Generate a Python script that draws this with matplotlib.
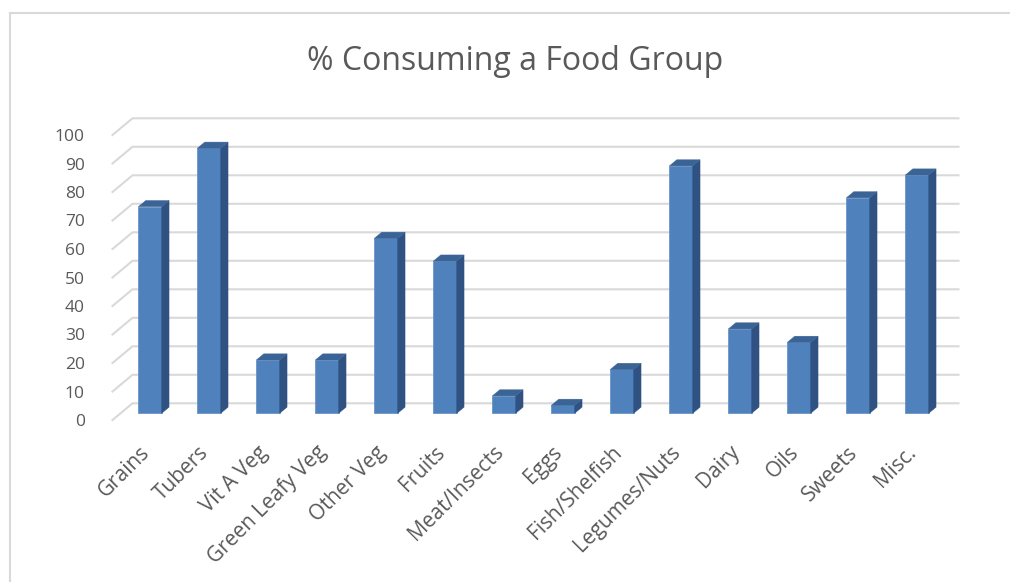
import matplotlib
matplotlib.use("Agg")
import matplotlib.pyplot as plt
from matplotlib.patches import Polygon
from matplotlib.lines import Line2D
from matplotlib.transforms import ScaledTranslation
import numpy as np

# ---- data ----
categories = ["Grains", "Tubers", "Vit A Veg", "Green Leafy Veg", "Other Veg",
              "Fruits", "Meat/Insects", "Eggs", "Fish/Shelfish", "Legumes/Nuts",
              "Dairy", "Oils", "Sweets", "Misc."]
values = [72.5, 93.0, 18.7, 18.7, 61.4, 53.4, 6.1, 2.8, 15.4, 86.8, 29.6, 24.9, 75.6, 83.6]
yticks = list(range(0, 101, 10))
title = "% Consuming a Food Group"

plt.rcParams['font.family'] = ['Open Sans', 'DejaVu Sans']
TXT = '#595959'
GRID = '#d9d9d9'
FRONT = '#4F81BD'
SIDE = '#2F5283'
TOP = '#3B6496'

W, H = 1010, 582
fig = plt.figure(figsize=(W / 100, H / 100), dpi=100)

# axes = front floor plane
left_px, right_px, bot_px, top_px = 112.5, 938.5, 420, 135
ax = fig.add_axes([left_px / W, 1 - bot_px / H, (right_px - left_px) / W, (bot_px - top_px) / H])
ax.set_xlim(-0.5, len(categories) - 0.5)
ax.set_ylim(0, 100)
for s in ax.spines.values():
    s.set_visible(False)
ax.set_facecolor('none')

# depth (full) in data units
DX = 20 / 59.0
DY = 16.7 / 2.85

x = np.arange(len(categories))
x0, x1 = -0.5, len(categories) - 0.5

# gridlines on left wall + back wall
for t in yticks:
    ax.add_line(Line2D([x0, x0 + DX, x1 + DX], [t, t + DY, t + DY],
                       color=GRID, lw=1.5, clip_on=False, zorder=1))

# bars
bw = 0.395
d_front, d_depth = 0.4, 0.37
ox, oy = d_front * DX, d_front * DY
dx, dy = d_depth * DX, d_depth * DY
ax.bar(x + ox, values, width=bw, bottom=oy, color=FRONT, edgecolor='#6a95c9',
       linewidth=0.6, zorder=3, clip_on=False)
for xi, v in zip(x, values):
    l = xi + ox - bw / 2
    r = xi + ox + bw / 2
    side = Polygon([(r, oy), (r + dx, oy + dy), (r + dx, v + oy + dy), (r, v + oy)],
                   closed=True, facecolor=SIDE, edgecolor=SIDE, lw=0.3, zorder=3, clip_on=False)
    top = Polygon([(l, v + oy), (r, v + oy), (r + dx, v + oy + dy), (l + dx, v + oy + dy)],
                  closed=True, facecolor=TOP, edgecolor=TOP, lw=0.3, zorder=3, clip_on=False)
    ax.add_patch(side)
    ax.add_patch(top)

ax.set_yticks(yticks)
ax.set_yticklabels([str(t) for t in yticks], fontsize=12.5, color=TXT)
ax.tick_params(axis='y', length=0, pad=20)
ax.set_xticks(x + ox)
ax.set_xticklabels(categories, rotation=45, ha='right', rotation_mode='anchor',
                   fontsize=15, color=TXT)
ax.tick_params(axis='x', length=0, pad=12)
shift = ScaledTranslation(-0.11, -0.05, fig.dpi_scale_trans)
for lab in ax.get_xticklabels():
    lab.set_transform(lab.get_transform() + shift)

fig.text(515 / W, 1 - 61 / H, title, ha='center', va='center', fontsize=23, color=TXT)

# chart border (left and top visible)
fig.add_artist(Line2D([10 / W, 10 / W], [0, 1 - 13 / H], color=GRID, lw=1.5))
fig.add_artist(Line2D([10 / W, 1], [1 - 13 / H, 1 - 13 / H], color=GRID, lw=1.5))

fig.savefig('out.png', dpi=100)
